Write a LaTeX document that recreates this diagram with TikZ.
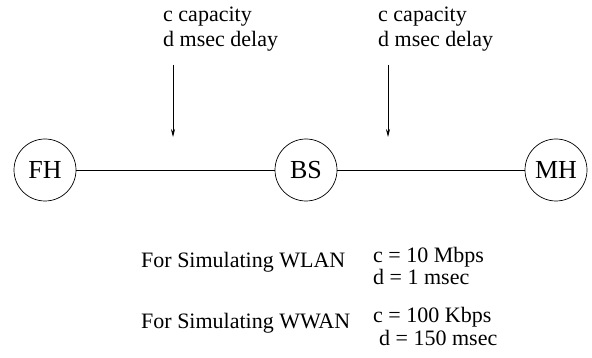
\documentclass[tikz,border=0pt]{standalone}
\usepackage{fontspec}
\setmainfont{Liberation Serif}
\usetikzlibrary{arrows.meta,positioning}
\tikzset{
  host/.style={circle,draw,line width=0.7pt,minimum size=62pt,inner sep=0pt,
               font=\fontsize{26}{26}\selectfont},
  lbl/.style={anchor=base west,inner sep=0pt,font=\fontsize{22}{22}\selectfont},
  link/.style={line width=0.7pt},
  pnt/.style={-{Stealth[length=8pt,width=4pt]},line width=0.7pt},
}

\begin{document}
\begin{tikzpicture}[x=1pt,y=-1pt]
  \useasboundingbox (0,0) rectangle (592,358);
  % hosts and links
  \node[host] (fh) at (45,170) {FH};
  \node[host] (bs) at (306,170) {BS};
  \node[host] (mh) at (556,170) {MH};
  \draw[link] (fh) -- (bs);
  \draw[link] (bs) -- (mh);
  % link parameters
  \foreach \x/\n in {163/l,378/r}{
    \node[lbl] (cap\n) at (\x,22) {c capacity};
    \node[lbl] (del\n) at (\x,47) {d msec delay};
    \coordinate (top\n) at (\x+10,65);
    \coordinate (tip\n) at (\x+10,137);
    \draw[pnt] (top\n) -- (tip\n);
  }
  % simulation settings
  \node[lbl] (wlan) at (141,268) {For Simulating WLAN};
  \node[lbl] (wlanc) at (373,263) {c = 10 Mbps};
  \node[lbl] (wland) at (373,285) {d = 1 msec};
  \node[lbl] (wwan) at (141,328) {For Simulating WWAN};
  \node[lbl] (wwanc) at (373,323) {c = 100 Kbps};
  \node[lbl] (wwand) at (379,345) {d = 150 msec};
\end{tikzpicture}
\end{document}
